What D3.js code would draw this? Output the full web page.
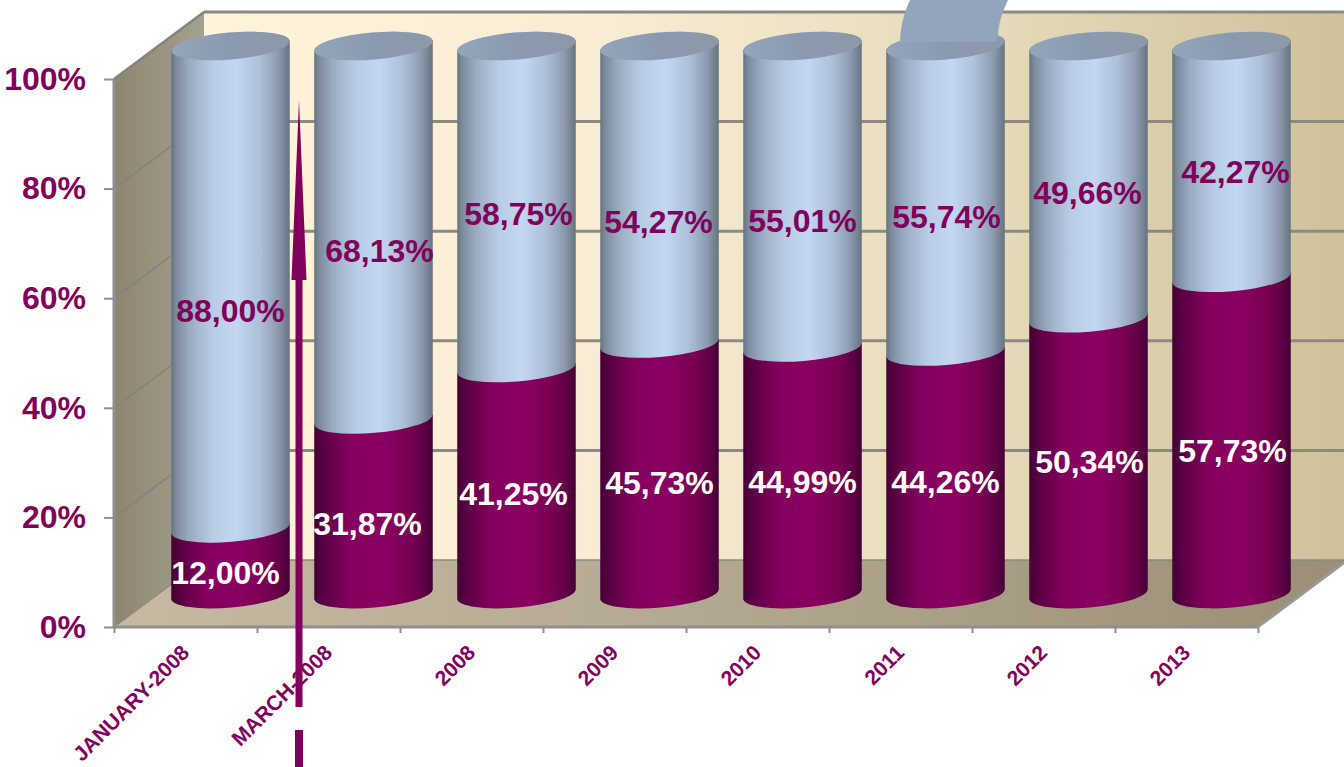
<!DOCTYPE html>
<html><head><meta charset="utf-8">
<script src="https://cdn.jsdelivr.net/npm/d3@7/dist/d3.min.js"></script>
<style>html,body{margin:0;padding:0;background:#fff;overflow:hidden}svg{display:block}text{font-family:"Liberation Sans",Arial,sans-serif;font-weight:700}</style>
</head><body><div id="c"></div>
<script>
// ---- data ----
const categories = ["JANUARY-2008","MARCH-2008","2008","2009","2010","2011","2012","2013"];
const lowerValues = [12.00,31.87,41.25,45.73,44.99,44.26,50.34,57.73];
const upperValues = [88.00,68.13,58.75,54.27,55.01,55.74,49.66,42.27];
const yTicks = [0,20,40,60,80,100];

// ---- layout ----
const W=1344,H=767, plot={l:114,r:1258,t:79,b:627}, depth={x:90,y:-67};
const barWidth=118.5, cap=13.5, tilt=5;
// the reference's data labels were hand-placed, these nudge them from segment centres
const lowerNudge=[[-5,12],[-6,17],[-3,13],[0,14],[0,11],[0,9],[1,6],[1,15]];
const upperNudge=[[0,24],[6,18],[2,7],[-1,27],[0,24],[1,18],[-1,11],[4,10]];
const MAGENTA="#80005c", GRID="#8b8a82";

const svg=d3.select("#c").append("svg").attr("width",W).attr("height",H).attr("viewBox",`0 0 ${W} ${H}`);
const defs=svg.append("defs");
function grad(id,stops){
  const g=defs.append("linearGradient").attr("id",id).attr("x1",0).attr("x2",1).attr("y1",0).attr("y2",0);
  stops.forEach(([o,c])=>g.append("stop").attr("offset",o).attr("stop-color",c));
}
grad("back",[[0,"#fff3da"],[.35,"#f8edd4"],[.7,"#e4d9b8"],[1,"#d0c09a"]]);
grad("side",[[0,"#8e8570"],[1,"#a4a18f"]]);
grad("floor",[[0,"#c6b9a2"],[.4,"#b6ab94"],[1,"#9a8f76"]]);
grad("lightCyl",[[0,"#66737f"],[.04,"#7b8a9c"],[.15,"#9aabc0"],[.35,"#b9cce5"],[.55,"#c3d7f2"],[.75,"#adbfd9"],[.9,"#8c9bb0"],[1,"#66737f"]]);
grad("darkCyl",[[0,"#440035"],[.1,"#5f0047"],[.3,"#85005e"],[.6,"#8a0061"],[.8,"#780052"],[.93,"#5e0046"],[1,"#440035"]]);
grad("capGrad",[[0,"#94a5bb"],[.5,"#8a9aae"],[1,"#8c99a9"]]);

// ---- scales ----
const y=d3.scaleLinear().domain([0,100]).range([plot.b,plot.t]);
const xBand=d3.scaleBand().domain(categories).range([plot.l,plot.r]);
const xEdge=d3.scaleLinear().domain([0,categories.length]).range([plot.l,plot.r]);
const cx=c=>xBand(c)+xBand.bandwidth()/2+depth.x/2;
const cyOff=-33;

// ---- walls ----
const poly=pts=>"M"+pts.map(p=>p.join(",")).join("L")+"Z";
const g=svg.append("g");
g.append("path").attr("d",poly([[plot.l+depth.x,y(100)+depth.y],[plot.r+depth.x,y(100)+depth.y],[plot.r+depth.x,y(0)+depth.y],[plot.l+depth.x,y(0)+depth.y]])).attr("fill","url(#back)");
g.append("path").attr("d",poly([[plot.l,y(100)],[plot.l+depth.x,y(100)+depth.y],[plot.l+depth.x,y(0)+depth.y],[plot.l,y(0)]])).attr("fill","url(#side)");
g.append("path").attr("d",poly([[plot.l,y(0)],[plot.l+depth.x,y(0)+depth.y],[plot.r+depth.x,y(0)+depth.y],[plot.r,y(0)]])).attr("fill","url(#floor)");
// gridlines
g.selectAll(".bg").data(yTicks).join("line").attr("x1",plot.l+depth.x).attr("x2",plot.r+depth.x)
  .attr("y1",d=>y(d)+depth.y).attr("y2",d=>y(d)+depth.y).attr("stroke",GRID).attr("stroke-width",d=>d==0?1.5:3);
g.selectAll(".sg").data(yTicks.slice(1)).join("line").attr("x1",plot.l).attr("x2",plot.l+depth.x)
  .attr("y1",d=>y(d)).attr("y2",d=>y(d)+depth.y).attr("stroke","#85837a").attr("stroke-width",d=>d==100?2.5:1.5);
g.append("line").attr("x1",plot.l).attr("x2",plot.l+depth.x).attr("y1",y(0)).attr("y2",y(0)+depth.y).attr("stroke","#8b887a").attr("stroke-width",1.2);
g.append("line").attr("x1",plot.r).attr("x2",plot.r+depth.x).attr("y1",y(0)).attr("y2",y(0)+depth.y).attr("stroke","#9a9a9c").attr("stroke-width",2.5);

// ---- axes ----
const axL=svg.append("g").attr("transform",`translate(${plot.l},0)`).call(d3.axisLeft(y).tickValues(yTicks).tickSize(10).tickPadding(18).tickFormat(d=>d+"%"));
const axB=svg.append("g").attr("transform",`translate(0,${plot.b})`).call(d3.axisBottom(xEdge).ticks(categories.length).tickSize(6).tickFormat(""));
[axL,axB].forEach(a=>{a.selectAll("path.domain").attr("stroke","#8f8f92").attr("stroke-width",3);a.selectAll(".tick line").attr("stroke","#8f8f92").attr("stroke-width",2);});
axB.select("path.domain").attr("d",`M${plot.l},0H${plot.r}`);
axL.select("path.domain").attr("d",`M0,${y(0)}V${y(100)}`);
axL.selectAll("text").attr("fill",MAGENTA).attr("dy","0.32em").style("font-size","32px").style("font-weight",700);
svg.selectAll(".xl").data(categories).join("text")
  .attr("transform",c=>`translate(${xBand(c)+xBand.bandwidth()/2+5},${plot.b+27}) rotate(-45)`)
  .attr("text-anchor","end").attr("fill",MAGENTA).style("font-size","21px").text(c=>c);

// ---- cylinders ----
const stack=d3.stack().keys(["lower","upper"])(categories.map((c,i)=>({c,lower:lowerValues[i],upper:upperValues[i]})));
const rx=barWidth/2, rot=-Math.atan2(tilt,rx)*180/Math.PI;
function seg(c,v0,v1){
  const X=cx(c),y0=y(v0)+cyOff,y1=y(v1)+cyOff;
  return `M${X-rx},${y1+tilt} L${X-rx},${y0+tilt} A${rx},${cap} ${rot} 0 0 ${X+rx},${y0-tilt} L${X+rx},${y1-tilt} A${rx},${cap} ${rot} 0 0 ${X-rx},${y1+tilt}Z`;
}
function segTopFlat(c,v0,v1){
  const X=cx(c),y0=y(v0)+cyOff,y1=y(v1)+cyOff;
  return `M${X-rx},${y1+tilt} L${X-rx},${y0+tilt} A${rx},${cap} ${rot} 0 0 ${X+rx},${y0-tilt} L${X+rx},${y1-tilt} Z`;
}
const bars=svg.append("g");
bars.selectAll(".lo").data(stack[0]).join("path").attr("d",d=>segTopFlat(d.data.c,d[0],d[1])).attr("fill","url(#darkCyl)");
bars.selectAll(".up").data(stack[1]).join("path").attr("d",d=>seg(d.data.c,d[0],d[1])).attr("fill","url(#lightCyl)");
bars.selectAll(".cap").data(stack[1]).join("ellipse")
  .attr("transform",d=>`translate(${cx(d.data.c)},${y(d[1])+cyOff}) rotate(${rot})`)
  .attr("rx",rx).attr("ry",cap).attr("fill","url(#capGrad)");

// ---- decorative swoosh over one cylinder's top ----
const swooshCat=categories[5];
const sc=cx(swooshCat);
svg.append("path").attr("d",`M${sc-45.5},42 C${sc-45},25 ${sc-41},12 ${sc-35.5},0 L${sc+62.5},0 C${sc+58},10 ${sc+53},22 ${sc+52.5},35 L${sc+50},42 Z`).attr("fill","#93a5bb");

// ---- data labels ----
const fmt=v=>v.toFixed(2).replace(".",",")+"%";
const labels=svg.append("g").attr("text-anchor","middle").style("font-size","32px");
labels.selectAll(".ll").data(stack[0]).join("text").attr("fill","#fff")
  .attr("x",(d,i)=>cx(d.data.c)+lowerNudge[i][0])
  .attr("y",(d,i)=>y((d[0]+d[1])/2)+cyOff+11+lowerNudge[i][1]).text(d=>fmt(d.data.lower));
labels.selectAll(".ul").data(stack[1]).join("text").attr("fill",MAGENTA)
  .attr("x",(d,i)=>cx(d.data.c)+upperNudge[i][0])
  .attr("y",(d,i)=>y((d[0]+d[1])/2)+cyOff+11+upperNudge[i][1]).text(d=>fmt(d.data.upper));

// ---- annotation arrow ----
const ax=xEdge(1)+42;
svg.append("path").attr("d",`M${ax},100 L${ax+7.5},280 L${ax+3.5},280 L${ax+3.5},707 L${ax-3.5},707 L${ax-3.5},280 L${ax-7.5},280Z`).attr("fill",MAGENTA);
svg.append("rect").attr("x",ax-4).attr("y",730).attr("width",8).attr("height",37).attr("fill",MAGENTA);
</script></body></html>
